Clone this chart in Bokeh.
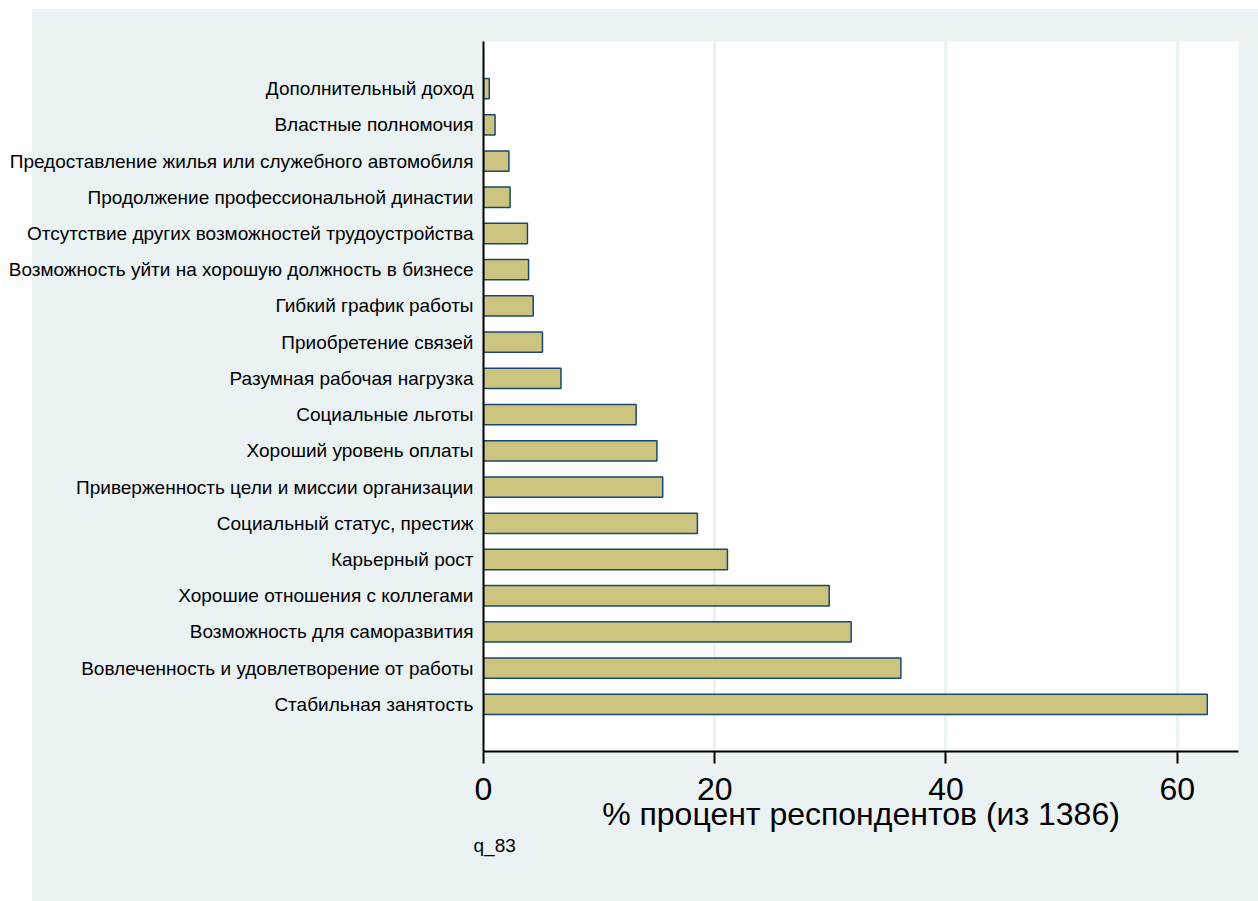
from bokeh.plotting import figure
from bokeh.models import Range1d, FactorRange, FixedTicker, Title
from bokeh.embed import file_html
from bokeh.resources import INLINE

categories = [
    "Дополнительный доход",
    "Властные полномочия",
    "Предоставление жилья или служебного автомобиля",
    "Продолжение профессиональной династии",
    "Отсутствие других возможностей трудоустройства",
    "Возможность уйти на хорошую должность в бизнесе",
    "Гибкий график работы",
    "Приобретение связей",
    "Разумная рабочая нагрузка",
    "Социальные льготы",
    "Хороший уровень оплаты",
    "Приверженность цели и миссии организации",
    "Социальный статус, престиж",
    "Карьерный рост",
    "Хорошие отношения с коллегами",
    "Возможность для саморазвития",
    "Вовлеченность и удовлетворение от работы",
    "Стабильная занятость",
]
values = [0.5, 1.0, 2.2, 2.3, 3.8, 3.9, 4.3, 5.1, 6.7, 13.2, 15.0, 15.5,
          18.5, 21.1, 29.9, 31.8, 36.1, 62.6]
x_ticks = [0, 20, 40, 60]
x_title = "% процент респондентов (из 1386)"
note = "q_83"

BG = "#EAF2F3"
FONT = "Liberation Sans"

factors = list(reversed(categories))
p = figure(
    width=1258, height=901,
    y_range=FactorRange(factors=factors, range_padding=0.8,
                        range_padding_units="absolute"),
    x_range=Range1d(0, 65.3),
    output_backend="svg", toolbar_location=None,
    min_border_left=483, min_border_right=20,
    min_border_top=41, min_border_bottom=150,
)
p.border_fill_alpha = 0
p.styles = {"background": (
    "linear-gradient(to bottom, #ffffff 9px, rgba(255,255,255,0) 9px), "
    "linear-gradient(to right, #ffffff 32px, %s 32px)" % BG)}
p.background_fill_color = "white"
p.outline_line_color = None

p.hbar(y=categories, right=values, left=0, height=0.56,
       fill_color="#CCC37F", line_color="#1A476F", line_width=1.5)

p.ygrid.grid_line_color = None
p.xgrid.grid_line_color = BG
p.xgrid.grid_line_width = 3
p.xgrid.ticker = FixedTicker(ticks=[20, 40, 60])

xa = p.xaxis[0]
xa.ticker = FixedTicker(ticks=x_ticks)
xa.minor_tick_line_color = None
xa.major_tick_out = 12
xa.major_tick_in = 0
xa.major_tick_line_width = 2
xa.axis_line_width = 2
xa.axis_line_color = "black"
xa.major_label_text_font = FONT
xa.major_label_text_font_size = "32px"
xa.major_label_text_color = "black"
xa.major_label_standoff = 14
xa.axis_label = x_title
xa.axis_label_text_font = FONT
xa.axis_label_text_font_size = "32px"
xa.axis_label_text_font_style = "normal"
xa.axis_label_text_color = "black"
xa.axis_label_standoff = -7

ya = p.yaxis[0]
ya.major_tick_out = 0
ya.major_tick_in = 0
ya.minor_tick_line_color = None
ya.axis_line_width = 2
ya.axis_line_color = "black"
ya.major_label_text_font = FONT
ya.major_label_text_font_size = "19px"
ya.major_label_text_color = "black"
ya.major_label_standoff = 10

p.add_layout(Title(text=note, align="left", offset=-10, text_font=FONT,
                   text_font_size="19px", text_font_style="normal",
                   text_color="black", standoff=-4), "below")

open("out.html", "w").write(file_html(p, INLINE))
